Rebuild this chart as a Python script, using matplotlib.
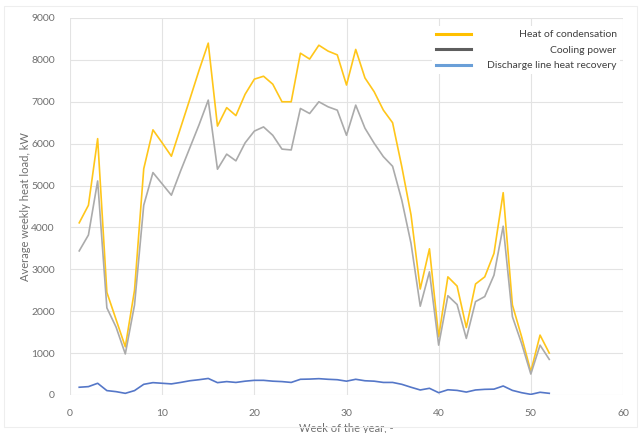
import numpy as np
import matplotlib
matplotlib.use("Agg")
import matplotlib.pyplot as plt
from matplotlib.lines import Line2D
from matplotlib.patches import Rectangle

plt.rcParams['font.family'] = ['Lato', 'DejaVu Sans']

# weekly data
weeks = np.arange(1, 53)
heat_condensation = [4110, 4530, 6120, 2450, 1800, 1150, 2500, 5400, 6330, 6020,
                     5700, 6380, 7060, 7750, 8400, 6420, 6860, 6670, 7180, 7540,
                     7610, 7420, 7000, 7000, 8160, 8020, 8350, 8210, 8120, 7400,
                     8250, 7570, 7240, 6800, 6500, 5450, 4300, 2530, 3490, 1390,
                     2820, 2600, 1610, 2650, 2820, 3380, 4830, 2150, 1390, 560,
                     1430, 1000]
cooling_power = [3440, 3820, 5110, 2080, 1620, 980, 2150, 4530, 5310, 5040,
                 4770, 5350, 5900, 6450, 7040, 5390, 5750, 5590, 6020, 6300,
                 6400, 6200, 5870, 5850, 6840, 6720, 7000, 6880, 6800, 6200,
                 6920, 6370, 6010, 5690, 5460, 4650, 3620, 2120, 2940, 1190,
                 2370, 2160, 1350, 2230, 2350, 2860, 4030, 1870, 1230, 500,
                 1190, 850]
discharge_recovery = [185, 200, 280, 105, 80, 40, 105, 255, 295, 280,
                      265, 300, 340, 365, 395, 295, 320, 300, 330, 350,
                      350, 330, 320, 300, 375, 380, 390, 375, 365, 330,
                      375, 340, 330, 300, 300, 255, 185, 120, 160, 55,
                      125, 110, 70, 120, 135, 140, 215, 110, 55, 15,
                      65, 40]

labels = ['Heat of condensation', 'Cooling power', 'Discharge line heat recovery']
line_colors = ['#FFC61A', '#ABABAB', '#5577C8']
legend_colors = ['#FFC000', '#5E5E5E', '#6A9FD8']
x_ticks = [0, 10, 20, 30, 40, 50, 60]
y_ticks = [0, 1000, 2000, 3000, 4000, 5000, 6000, 7000, 8000, 9000]

text_gray = '#6f6f6f'

fig = plt.figure(figsize=(6.42, 4.33), dpi=100)
ax = fig.add_axes([70 / 642, 1 - 395 / 433, 553 / 642, 377 / 433])

# faint outer chart frame
fig.patches.append(Rectangle((0.006, 0.015), 0.986, 0.97, transform=fig.transFigure,
                             fill=False, edgecolor='#eeeeee', linewidth=0.8))

ax.plot(weeks, heat_condensation, color=line_colors[0], linewidth=1.2, zorder=3)
ax.plot(weeks, cooling_power, color=line_colors[1], linewidth=1.2, zorder=3)
ax.plot(weeks, discharge_recovery, color=line_colors[2], linewidth=1.2, zorder=3)

ax.set_xlim(0, 60)
ax.set_ylim(0, 9000)
ax.set_xticks(x_ticks)
ax.set_yticks(y_ticks)
ax.grid(True, color='#e3e3e3', linewidth=0.8)
ax.set_axisbelow(True)
for s in ax.spines.values():
    s.set_visible(False)
ax.tick_params(length=0, labelsize=7.5, labelcolor=text_gray)
ax.tick_params(axis='y', pad=11)
ax.tick_params(axis='x', pad=10)

ax.set_xlabel('Week of the year, -', fontsize=8, color=text_gray, labelpad=4)
ax.set_ylabel('Average weekly heat load, kW', fontsize=8, color=text_gray, labelpad=0)

handles = [Line2D([], [], color=c, linewidth=2.2) for c in legend_colors]
leg = ax.legend(handles, labels, loc='upper right', bbox_to_anchor=(0.995, 0.978),
                frameon=True, fancybox=False, framealpha=1, facecolor='white',
                edgecolor='none', fontsize=7.5, handlelength=3.4, handletextpad=1.5,
                borderpad=0.35, labelspacing=0.6, borderaxespad=0)
for t in leg.get_texts():
    t.set_color('#404040')

# right-align the legend labels like in the original
fig.canvas.draw()
renderer = fig.canvas.get_renderer()
widths = [t.get_window_extent(renderer).width for t in leg.get_texts()]
wmax = max(widths)
rows = [row for col in leg._legend_handle_box.get_children() for row in col.get_children()]
for row, w in zip(rows, widths):
    row.sep += (wmax - w) * 72 / fig.dpi

fig.savefig('out.png', dpi=100)
